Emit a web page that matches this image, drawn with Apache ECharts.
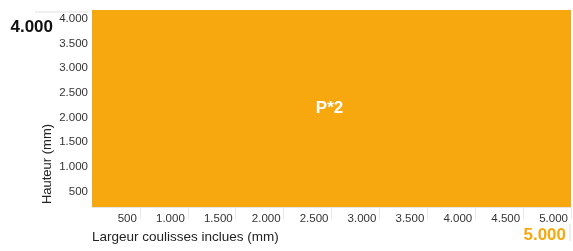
<!DOCTYPE html>
<html>
<head>
<meta charset="utf-8">
<script src="https://cdn.jsdelivr.net/npm/echarts@6/dist/echarts.min.js"></script>
<style>
  html, body { margin: 0; padding: 0; background: #fff; }
  #chart { width: 573px; height: 251px; }
</style>
</head>
<body>
<div id="chart"></div>
<script>
// zones (width range x height range, mm)
const zoneNames = ['P*2']
const zoneWidths = [[0, 5000]]
const zoneHeights = [[0, 4000]]

const maxWidth = 5000
const maxHeight = 4000
const tickStep = 500

const ORANGE = '#F6A80E'
const FONT = 'Liberation Sans'

function fmt(v) {
  return String(v).replace(/\B(?=(\d{3})+(?!\d))/g, '.')
}

const zoneData = zoneNames.map((n, i) => [
  zoneWidths[i][0], zoneHeights[i][0], zoneWidths[i][1], zoneHeights[i][1], n
])

const chart = echarts.init(document.getElementById('chart'), null, { renderer: 'canvas' })

chart.setOption({
  animation: false,
  grid: { left: 92, right: 2, top: 10, bottom: 44 },
  xAxis: {
    type: 'value',
    min: 0,
    max: maxWidth,
    interval: tickStep,
    name: 'Largeur coulisses inclues (mm)',
    nameLocation: 'start',
    nameGap: 0,
    nameTextStyle: {
      align: 'left', verticalAlign: 'top', padding: [23, 0, 0, 0],
      fontFamily: FONT, fontSize: 13.5, color: '#222'
    },
    axisLine: { show: true, lineStyle: { color: '#e4e4e4' } },
    axisTick: { show: true, length: 12, lineStyle: { color: '#e8e8e8' } },
    splitLine: { show: false },
    axisLabel: {
      showMinLabel: false,
      align: 'right',
      verticalAlign: 'top',
      margin: 6,
      padding: [0, 3, 0, 0],
      fontFamily: FONT, fontSize: 11.5, color: '#333',
      formatter: v => fmt(v)
    }
  },
  yAxis: {
    type: 'value',
    min: 0,
    max: maxHeight,
    interval: tickStep,
    axisLine: { show: true, lineStyle: { color: '#e4e4e4' } },
    axisTick: { show: false },
    splitLine: { show: false },
    axisLabel: {
      showMinLabel: false,
      verticalAlign: 'top',
      margin: 4,
      padding: [3, 0, 0, 0],
      fontFamily: FONT, fontSize: 11.5, color: '#333',
      formatter: v => fmt(v)
    }
  },
  series: [{
    type: 'custom',
    data: zoneData,
    renderItem: (params, api) => {
      const p0 = api.coord([api.value(0), api.value(1)])
      const p1 = api.coord([api.value(2), api.value(3)])
      const x = Math.min(p0[0], p1[0])
      const y = Math.min(p0[1], p1[1])
      const w = Math.abs(p1[0] - p0[0])
      const h = Math.abs(p1[1] - p0[1])
      return {
        type: 'group',
        children: [
          { type: 'rect', shape: { x, y, width: w, height: h }, style: { fill: ORANGE } },
          {
            type: 'text',
            x: x + w / 2 - 2,
            y: y + h / 2,
            style: {
              text: zoneData[params.dataIndex][4],
              fill: '#fff',
              font: 'bold 17px "' + FONT + '"',
              align: 'center',
              verticalAlign: 'middle'
            }
          }
        ]
      }
    }
  }]
})

// dimension marks placed from the axes
const topLeft = chart.convertToPixel({ gridIndex: 0 }, [0, maxHeight])
const botRight = chart.convertToPixel({ gridIndex: 0 }, [maxWidth, 0])

chart.setOption({
  graphic: [
    {
      type: 'line',
      shape: { x1: 35, y1: topLeft[1] + 2, x2: topLeft[0] - 4, y2: topLeft[1] + 2 },
      style: { stroke: '#e0e0e0', lineWidth: 1 }
    },
    {
      type: 'text',
      x: topLeft[0] - 39,
      y: topLeft[1] + 17,
      style: {
        text: fmt(maxHeight), fill: '#111',
        font: 'bold 17px "' + FONT + '"', align: 'right', verticalAlign: 'middle'
      }
    },
    {
      type: 'text',
      x: 47,
      y: 164,
      rotation: Math.PI / 2,
      style: {
        text: 'Hauteur (mm)', fill: '#222',
        font: '13px "' + FONT + '"', align: 'center', verticalAlign: 'middle'
      }
    },
    {
      type: 'line',
      shape: { x1: botRight[0] - 1, y1: botRight[1] + 17, x2: botRight[0] - 1, y2: botRight[1] + 34 },
      style: { stroke: '#e0e0e0', lineWidth: 1 }
    },
    {
      type: 'text',
      x: botRight[0] - 5,
      y: botRight[1] + 28,
      style: {
        text: fmt(maxWidth), fill: ORANGE,
        font: 'bold 17px "' + FONT + '"', align: 'right', verticalAlign: 'middle'
      }
    }
  ]
})
</script>
</body>
</html>
